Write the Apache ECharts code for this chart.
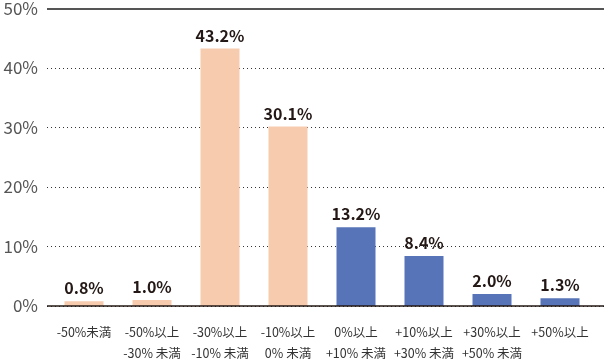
<!DOCTYPE html>
<html><head><meta charset="utf-8">
<script src="https://cdn.jsdelivr.net/npm/echarts@6/dist/echarts.min.js"></script>
<style>html,body{margin:0;padding:0;background:#fff}#c{width:604px;height:364px}</style>
</head><body><div id="c"></div>
<script>
const categories = ['-50%未満', '-50%以上\n-30% 未満', '-30%以上\n-10% 未満', '-10%以上\n0% 未満', '0%以上\n+10% 未満', '+10%以上\n+30% 未満', '+30%以上\n+50% 未満', '+50%以上'];
const values = [0.8, 1.0, 43.2, 30.1, 13.2, 8.4, 2.0, 1.3];
const barColors = ['#F6CBAE', '#F6CBAE', '#F6CBAE', '#F6CBAE', '#5774B8', '#5774B8', '#5774B8', '#5774B8'];
const yTicks = [0, 10, 20, 30, 40, 50];
const font = '"Noto Sans CJK JP", "Noto Sans", sans-serif';
const chart = echarts.init(document.getElementById('c'));
chart.setOption({
  animation: false,
  grid: [
    {left: 50, right: 10, top: 8, bottom: 58},
    {left: 47, right: 0, top: 8, bottom: 58}
  ],
  xAxis: [
    {type: 'category', gridIndex: 0, data: categories,
     axisLine: {show: false}, axisTick: {show: false},
     axisLabel: {color: '#333', fontSize: 12.5, fontFamily: font, lineHeight: 21, margin: 16, interval: 0}},
    {type: 'value', gridIndex: 1, min: 0, max: 1, show: false}
  ],
  yAxis: [
    {type: 'value', gridIndex: 0, min: 0, max: 50, interval: 10, show: false},
    {type: 'value', gridIndex: 1, min: 0, max: 50, interval: 10,
     axisLine: {show: false}, axisTick: {show: false},
     axisLabel: {color: '#555', fontSize: 17, fontFamily: font, margin: 9, formatter: v => yTicks.includes(v) ? v + '%' : ''},
     splitLine: {lineStyle: {color: '#333', type: [1, 3], width: 1}}}
  ],
  series: [
    {type: 'bar', xAxisIndex: 0, yAxisIndex: 0, data: values.map((v, i) => ({value: v, itemStyle: {color: barColors[i]}})),
     barWidth: 39,
     label: {show: true, position: 'top', distance: 5, formatter: p => p.value.toFixed(1) + '%', color: '#231815', fontSize: 16, fontWeight: 'bold', fontFamily: font}},
    {type: 'line', xAxisIndex: 1, yAxisIndex: 1, data: [], silent: true,
     markLine: {silent: true, symbol: 'none', label: {show: false},
       data: [
         [{coord: [0, 50]}, {coord: [1, 50], lineStyle: {color: '#555', width: 2, type: 'solid'}}],
         [{coord: [0, 0]}, {coord: [1, 0], lineStyle: {color: '#231815', width: 1.5, type: 'solid'}}]
       ]}}
  ]
});
</script></body></html>
